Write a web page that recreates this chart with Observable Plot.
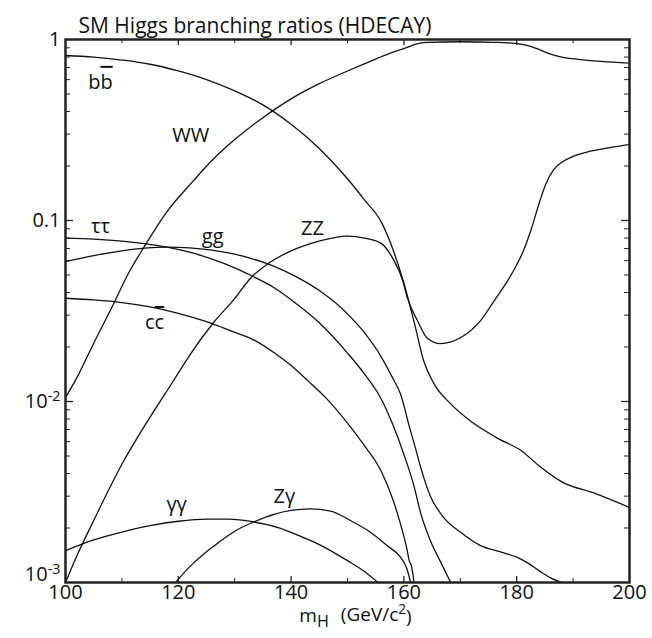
<!DOCTYPE html>
<html><head><meta charset="utf-8">
<script src="https://cdn.jsdelivr.net/npm/d3@7"></script>
<script src="https://cdn.jsdelivr.net/npm/@observablehq/plot@0.6"></script>
<style>
body{margin:0;background:#fff;}
</style></head><body>
<div id="chart"></div>
<script>
// [m_H (GeV), branching ratio]
const bb = [[100,0.816],[105,0.80],[110,0.77],[115,0.73],[120,0.67],[125,0.60],[130,0.52],[135,0.435],[140,0.34],[145,0.25],[150,0.17],[153,0.13],[156,0.098],[158,0.07],[160,0.045],[162,0.026],[163.5,0.0168],[165.3,0.0126],[168.3,0.0097],[171.8,0.0078],[176.5,0.0063],[181,0.0053],[184,0.0044],[188,0.0036],[194,0.0031],[200,0.0026]];
const WW = [[100,0.0105],[102,0.0135],[105,0.021],[108.6,0.035],[111,0.05],[114,0.072],[118,0.112],[122.7,0.166],[126,0.215],[130,0.28],[135,0.37],[140,0.47],[145,0.57],[150,0.67],[155,0.78],[158,0.85],[160,0.89],[162,0.94],[164,0.963],[170,0.972],[176,0.965],[180,0.95],[182,0.925],[184,0.88],[186,0.83],[188,0.80],[191,0.777],[195,0.757],[200,0.74]];
const ZZ = [[100,0.001],[102,0.0014],[105,0.0022],[110,0.0045],[115,0.0082],[119.2,0.0131],[122,0.018],[126.3,0.0274],[130,0.037],[132.8,0.048],[136,0.058],[140,0.068],[145,0.077],[150,0.082],[153,0.08],[155.9,0.075],[158,0.062],[159.8,0.0465],[160.6,0.0375],[162.4,0.028],[164.2,0.0223],[166.5,0.0209],[170,0.0225],[173.6,0.028],[176,0.036],[178.4,0.0465],[180,0.057],[181.2,0.068],[182.5,0.088],[184,0.125],[185.2,0.16],[186.5,0.19],[188,0.21],[190,0.226],[192.5,0.239],[195,0.248],[197.5,0.256],[200,0.263]];
const tautau = [[100,0.080],[105,0.079],[110,0.077],[114,0.0745],[118,0.0712],[122,0.0668],[126,0.0612],[130,0.0548],[133,0.0495],[137,0.0425],[140,0.0365],[145,0.0272],[150,0.0185],[153,0.0142],[156,0.0103],[158,0.0075],[160,0.0051],[161.8,0.0034],[163,0.0024],[164.7,0.0017],[166.5,0.0013],[168.3,0.001]];
const gg = [[100,0.0593],[105,0.064],[110,0.068],[114,0.0703],[118,0.0712],[122,0.0706],[126,0.0686],[130,0.0652],[133,0.0616],[137,0.0558],[140,0.0505],[145,0.041],[150,0.0305],[153,0.024],[156,0.0176],[158,0.0135],[159.4,0.011],[161,0.0072],[162,0.0056],[163,0.0043],[164.7,0.003],[167,0.0023],[170,0.0019],[173.6,0.0016],[177,0.00148],[180,0.00138],[182,0.00128],[184,0.00116],[186,0.00106],[188,0.001]];
const cc = [[100,0.0372],[105,0.0364],[110,0.0352],[115,0.0333],[120,0.0307],[125,0.0276],[130,0.0241],[133,0.0222],[137,0.0186],[140,0.0158],[143,0.013],[146,0.0106],[150,0.0076],[153,0.0057],[156,0.0041],[158,0.0029],[159.4,0.0021],[160.5,0.00155],[161,0.0013],[161.3,0.00125],[161.8,0.001]];
const gamgam = [[100,0.0015],[105,0.00172],[110,0.0019],[115,0.00206],[120,0.00218],[125,0.00224],[129,0.00224],[133.4,0.00216],[138,0.002],[142,0.00178],[145,0.00162],[150,0.00132],[153,0.00115],[155.4,0.001]];
const Zgam = [[119.5,0.001],[122,0.00122],[125,0.00148],[127,0.00165],[130,0.00192],[133.4,0.00216],[137,0.00238],[140,0.0025],[143.4,0.00255],[147,0.00248],[150.5,0.0022],[154,0.0019],[157,0.0016],[159.4,0.00138],[160.5,0.0012],[161.2,0.001]];

const channels = ["bb","WW","ZZ","tautau","gg","cc","gamgam","Zgam"];
const seriesData = [bb, WW, ZZ, tautau, gg, cc, gamgam, Zgam];

// curve labels: [text, m_H, BR]
const labelNames = ["bb̄","WW","ττ","gg","ZZ","cc̄","γγ","Zγ"];
const labelM = [106.2, 122.2, 106.2, 126.1, 143.8, 115.8, 119.7, 138.8];
const labelBR = [0.579, 0.295, 0.0928, 0.0815, 0.0902, 0.0273, 0.00268, 0.00299];

const titleText = "SM Higgs branching ratios (HDECAY)";
const xTitleText = "m_H (GeV/c^2)";
const xLabelTicks = [100,120,140,160,180,200];
const xMinorTicks = [110,130,150,170,190];
const xMajorTicks = [120,140,160,180];
const yLabelTicks = [1,0.1,0.01];
const yTickText = ["1","0.1","10^-2"];
const yBottomTick = [0.001];
const yBottomText = ["10^-3"];
const yMinorTicks = [0.001,0.01,0.1].flatMap(d => [2,3,4,5,6,7,8,9].map(k => k*d));
const yMajorTicks = [0.1,0.01];

const rows = seriesData.flatMap((s,i) => s.map(([m,br]) => ({ch: channels[i], m, br})));
const labels = labelNames.map((t,i) => ({t, m: labelM[i], br: labelBR[i]}));

const W = 652, H = 638, mt = 39, mb = 56, ml = 65, mr = 23;
const iw = W - ml - mr, ih = H - mt - mb;
const FONT = "'Open Sans', sans-serif";

const chart = Plot.plot({
  width: W, height: H,
  marginTop: mt, marginBottom: mb, marginLeft: ml, marginRight: mr,
  style: {fontFamily: FONT, color: "#111", background: "#fff"},
  x: {domain: [100,200], label: null},
  y: {type: "log", domain: [0.001, 1], label: null},
  marks: [
    Plot.line(rows, {x: "m", y: "br", z: "ch", stroke: "#111", strokeWidth: 1.3, curve: "monotone-x", clip: true}),
    // inward ticks
    Plot.ruleX(xMinorTicks, {x: d => d, insetTop: ih - 4, stroke: "#222"}),
    Plot.ruleX(xMinorTicks, {x: d => d, insetBottom: ih - 4, stroke: "#222"}),
    Plot.ruleX(xMajorTicks, {x: d => d, insetTop: ih - 6, stroke: "#222", strokeWidth: 1.3}),
    Plot.ruleX(xMajorTicks, {x: d => d, insetBottom: ih - 6, stroke: "#222", strokeWidth: 1.3}),
    Plot.ruleY(yMinorTicks, {y: d => d, insetRight: iw - 5, stroke: "#222"}),
    Plot.ruleY(yMinorTicks, {y: d => d, insetLeft: iw - 5, stroke: "#222"}),
    Plot.ruleY(yMajorTicks, {y: d => d, insetRight: iw - 8, stroke: "#222", strokeWidth: 1.3}),
    Plot.ruleY(yMajorTicks, {y: d => d, insetLeft: iw - 8, stroke: "#222", strokeWidth: 1.3}),
    Plot.frame({stroke: "#222", strokeWidth: 2.5}),
    Plot.axisX({ticks: xLabelTicks, tickSize: 0, tickPadding: 2, fontSize: 20, label: null}),
    Plot.axisY({ticks: yLabelTicks, tickSize: 0, tickPadding: 5, fontSize: 20, label: null,
      tickFormat: d => yTickText[yLabelTicks.indexOf(d)]}),
    Plot.axisY({ticks: yBottomTick, tickSize: 0, tickPadding: 5, fontSize: 20, label: null, dy: -8,
      tickFormat: d => yBottomText[0]}),
    Plot.text(labels, {x: "m", y: "br", text: "t", fontSize: 20, fill: "#111"}),
    Plot.text([titleText], {frameAnchor: "top-left", text: d => d, dx: 13, dy: -21, fontSize: 21, fill: "#111", textAnchor: "start"}),
    Plot.text([xTitleText], {frameAnchor: "bottom", text: d => d, dy: 39, dx: 8, fontSize: 19, fill: "#111"})
  ]
});
document.getElementById("chart").appendChild(chart);

// typographic details: overlines, superscripts, subscripts
d3.select(chart).selectAll("text").each(function() {
  const t = this.textContent;
  if (t === "bb̄") this.innerHTML = 'b<tspan style="text-decoration:overline">b</tspan>';
  else if (t === "cc̄") this.innerHTML = 'c<tspan style="text-decoration:overline">c</tspan>';
  else if (t.startsWith("10^")) this.innerHTML = '10<tspan dy="-0.45em" font-size="0.72em">' + t.slice(3) + '</tspan>';
  else if (t === xTitleText) this.innerHTML = 'm<tspan dy="0.35em" font-size="0.85em">H</tspan><tspan dy="-0.35em" dx="12">(GeV/c</tspan><tspan dy="-0.45em" font-size="0.72em">2</tspan><tspan dy="0.45em">)</tspan>';
});
</script>
</body></html>
